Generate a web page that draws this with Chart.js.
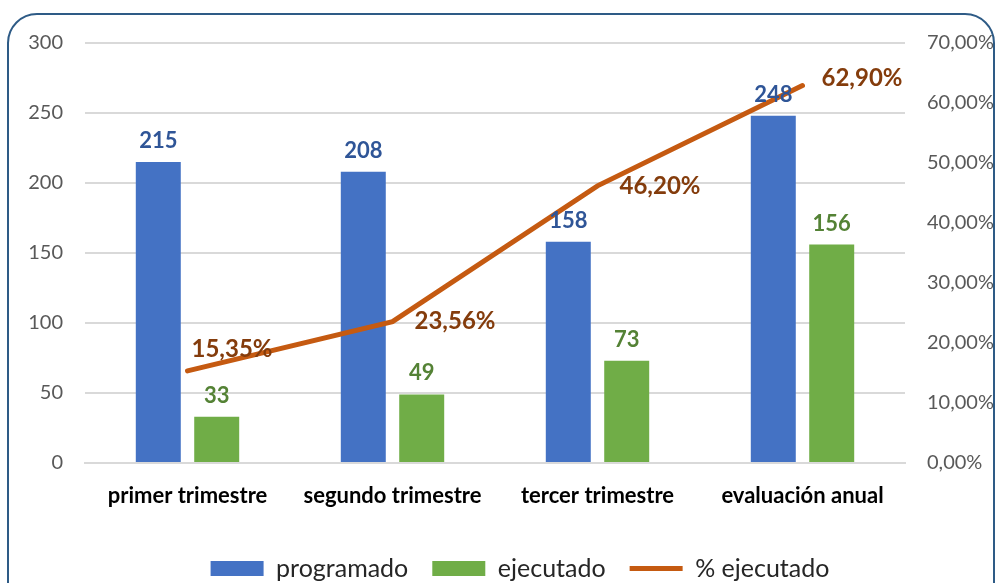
<!DOCTYPE html>
<html>
<head>
<meta charset="utf-8">
<script src="https://cdn.jsdelivr.net/npm/chart.js@4"></script>
<style>
  html, body { margin: 0; padding: 0; background: #fff; }
  #wrap { position: relative; width: 1004px; height: 583px; overflow: hidden; }
  #frame { position: absolute; left: 7px; top: 13px; width: 988px; height: 640px;
           border: 2px solid #2E5B86; border-radius: 30px; box-sizing: border-box; }
  canvas { position: absolute; left: 0; top: 0; }
</style>
</head>
<body>
<div id="wrap">
  <div id="frame"></div>
  <canvas id="chart" width="1004" height="583"></canvas>
</div>
<script>
const categories = ['primer trimestre', 'segundo trimestre', 'tercer trimestre', 'evaluación anual'];
const programado = [215, 208, 158, 248];
const ejecutado = [33, 49, 73, 156];
const pctEjecutado = [15.35, 23.56, 46.20, 62.90];

const FONT = 'Lato, "Open Sans", sans-serif';

// etiquetas de datos (comme Excel)
const pctOffsets = [[4, -22], [22, 0], [22, 0], [19, -7]];
const labelPlugin = {
  id: 'labels',
  afterInit(chart) {
    // legende un peu plus basse
    const lg = chart.legend;
    const fit = lg.fit;
    lg.fit = function () { fit.call(this); this.height -= 8; };
  },
  afterLayout(chart) {
    // legende decalee a droite comme dans Excel
    chart.legend.left += 18;
    chart.legend.right += 18;
  },
  afterDatasetsDraw(chart) {
    const ctx = chart.ctx;
    ctx.save();
    ctx.textBaseline = 'middle';
    chart.data.datasets.forEach((ds, i) => {
      const meta = chart.getDatasetMeta(i);
      meta.data.forEach((el, j) => {
        const v = ds.data[j];
        if (ds.type === 'line') {
          const [dx, dy] = pctOffsets[j];
          ctx.font = 'bold 24px ' + FONT;
          ctx.fillStyle = '#843C0C';
          ctx.textAlign = 'left';
          ctx.fillText(v.toFixed(2).replace('.', ',') + '%', el.x + dx, el.y + dy);
        } else {
          ctx.font = 'bold 22px ' + FONT;
          ctx.fillStyle = ds.labelColor;
          ctx.textAlign = 'center';
          ctx.fillText(v, el.x, el.y - 21);
        }
      });
    });
    ctx.restore();
  }
};

new Chart(document.getElementById('chart').getContext('2d'), {
  data: {
    labels: categories,
    datasets: [
      {
        type: 'bar',
        label: 'programado',
        data: programado,
        yAxisID: 'y',
        backgroundColor: '#4472C4',
        labelColor: '#2F5597',
        pointStyle: 'rect',
        categoryPercentage: 0.57,
        barPercentage: 0.77,
        order: 1
      },
      {
        type: 'bar',
        label: 'ejecutado',
        data: ejecutado,
        yAxisID: 'y',
        backgroundColor: '#70AD47',
        labelColor: '#548235',
        pointStyle: 'rect',
        categoryPercentage: 0.57,
        barPercentage: 0.77,
        order: 2
      },
      {
        type: 'line',
        label: '% ejecutado',
        data: pctEjecutado,
        yAxisID: 'y1',
        borderColor: '#C55A11',
        backgroundColor: '#C55A11',
        borderWidth: 5,
        borderCapStyle: 'round',
        pointRadius: 0,
        pointStyle: 'line',
        tension: 0,
        order: 0
      }
    ]
  },
  options: {
    responsive: false,
    animation: false,
    layout: { padding: { top: 43, left: 0, right: 0, bottom: 0 } },
    plugins: {
      tooltip: { enabled: false },
      legend: {
        position: 'bottom',
        labels: {
          usePointStyle: true,
          pointStyleWidth: 53,
          boxHeight: 15,
          padding: 24,
          color: '#262626',
          font: { family: FONT, size: 25 },
          sort: (a, b) => a.datasetIndex - b.datasetIndex
        }
      }
    },
    scales: {
      x: {
        grid: { display: false },
        border: { color: '#D9D9D9', width: 2 },
        ticks: { color: '#000', font: { family: FONT, size: 22, weight: 'bold' }, padding: 12 },
        afterFit: s => { s.height = 69; }
      },
      y: {
        position: 'left',
        min: 0, max: 300,
        ticks: { stepSize: 50, color: '#595959', font: { family: FONT, size: 20 }, padding: 22 },
        grid: { color: '#D9D9D9', lineWidth: 2, drawTicks: false },
        border: { display: false },
        afterFit: s => { s.width = 85; }
      },
      y1: {
        position: 'right',
        min: 0, max: 70,
        ticks: {
          stepSize: 10, color: '#595959', font: { family: FONT, size: 20 }, padding: 22,
          callback: v => v.toFixed(2).replace('.', ',') + '%'
        },
        grid: { display: false, drawTicks: false },
        border: { display: false },
        afterFit: s => { s.width = 99; }
      }
    }
  },
  plugins: [labelPlugin]
});
</script>
</body>
</html>
